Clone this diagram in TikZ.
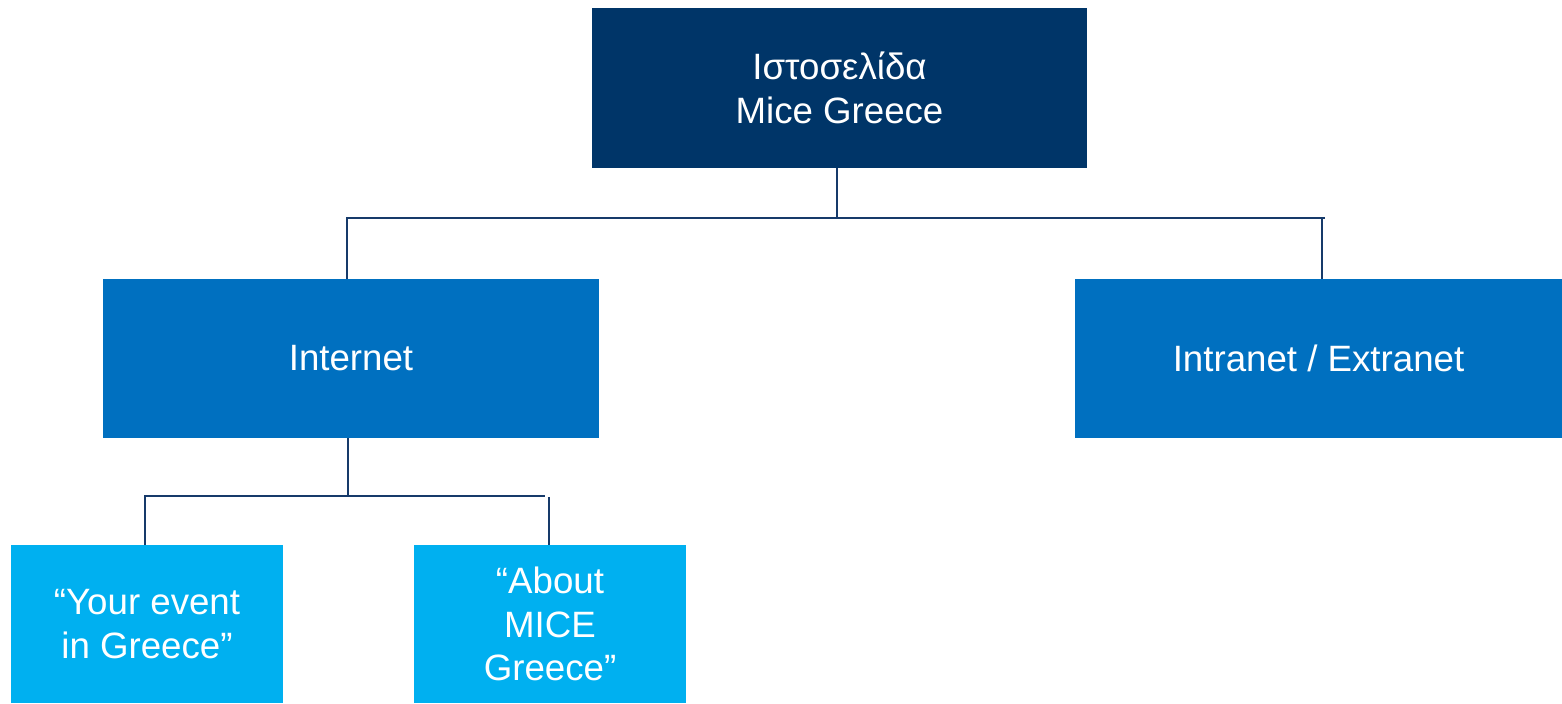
\documentclass[tikz,border=0pt]{standalone}
\usepackage{fontspec}
\setmainfont{Liberation Sans}
\definecolor{navybox}{RGB}{0,53,104}
\definecolor{midblue}{RGB}{0,112,192}
\definecolor{skyblue}{RGB}{0,176,240}
\definecolor{linkcol}{RGB}{22,58,106}
\tikzset{
  box/.style={rectangle, inner sep=0pt, text=white, align=center,
    font=\fontsize{27.5}{32.5}\selectfont},
  conn/.style={draw=linkcol, line width=2pt},
}
\begin{document}
\begin{tikzpicture}[x=0.75pt, y=-0.75pt]
  \useasboundingbox (0,0) rectangle (1562,703);

  % boxes
  \node[box, fill=navybox, minimum width=495*0.75pt, minimum height=160*0.75pt]
    (top) at (839.5,88) {Ιστοσελίδα\\Mice Greece};
  \node[box, fill=midblue, minimum width=496*0.75pt, minimum height=159*0.75pt]
    (internet) at (351,358.5) {Internet};
  \node[box, fill=midblue, minimum width=487*0.75pt, minimum height=159*0.75pt]
    (intranet) at (1318.5,358.5) {Intranet / Extranet};
  \node[box, fill=skyblue, minimum width=272*0.75pt, minimum height=158*0.75pt]
    (event) at (147,624) {“Your event\\in Greece”};
  \node[box, fill=skyblue, minimum width=272*0.75pt, minimum height=158*0.75pt]
    (about) at (550,624) {“About\\MICE\\Greece”};

  % bus levels
  \coordinate (bus1) at (837,218);
  \coordinate (bus2) at (348,496);

  % connectors, first level
  \draw[conn] (top.south -| bus1) -- (bus1);
  \draw[conn] (internet.north -| 347,0) -- (347,218) -- (1325,218);
  \draw[conn] (intranet.north -| 1322,0) -- (1322,218);

  % connectors, second level
  \draw[conn] (internet.south -| bus2) -- (bus2);
  \draw[conn] (event.north -| 145,0) -- (145,496) -- (545,496);
  \draw[conn] (about.north -| 549,0) -- (549,497);
\end{tikzpicture}
\end{document}
